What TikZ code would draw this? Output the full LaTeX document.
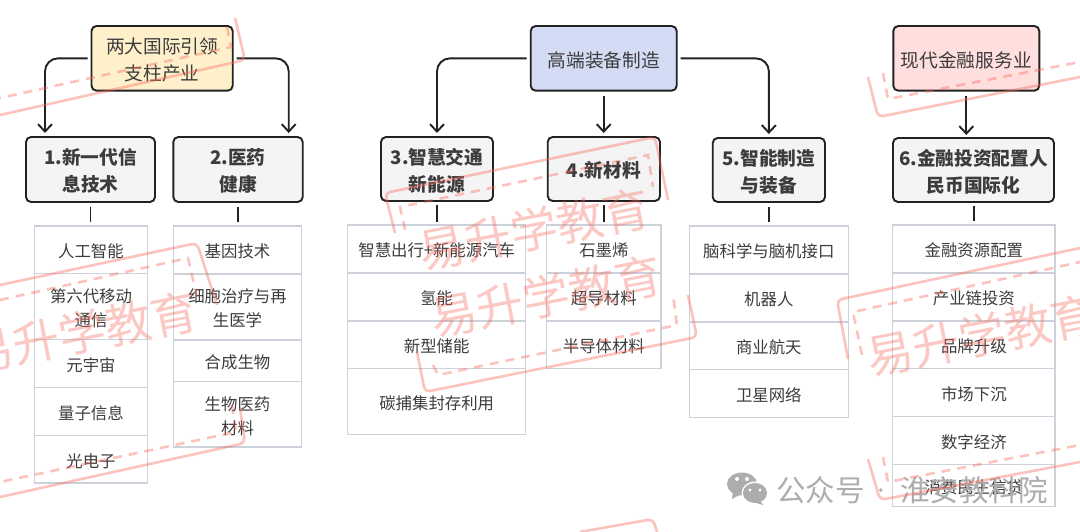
\documentclass[tikz,border=0pt]{standalone}
\usepackage{fontspec}
\setmainfont{Noto Sans CJK SC}
\usetikzlibrary{arrows.meta}
\definecolor{inkc}{HTML}{222222}
\definecolor{bodyc}{HTML}{3C3C3C}
\definecolor{rowc}{HTML}{CDD1D9}
\definecolor{stampc}{HTML}{F9695E}
\definecolor{wmc}{HTML}{ADADAD}
\definecolor{boxgrey}{HTML}{F4F4F4}
\definecolor{topyellow}{HTML}{FFF0CC}
\definecolor{topblue}{HTML}{D4DCF5}
\definecolor{toppink}{HTML}{FFDEDE}
\tikzset{
  topbox/.style={draw=inkc,line width=1.9pt,rounded corners=5pt,inner sep=0pt,outer sep=0pt},
  midbox/.style={draw=inkc,line width=1.9pt,rounded corners=5pt,fill=boxgrey,inner sep=0pt,outer sep=0pt},
  rowbox/.style={draw=rowc,line width=1.2pt,inner sep=0pt,outer sep=0pt},
  toptext/.style={inner sep=0pt,text=bodyc,align=center,font=\fontsize{18.7}{27}\selectfont},
  midtext/.style={inner sep=0pt,text=bodyc,align=center,font=\fontsize{18.7}{27}\selectfont\bfseries},
  rowtext/.style={inner sep=0pt,text=bodyc,align=center,font=\fontsize{16.4}{24}\selectfont},
  flow/.style={draw=inkc,line width=1.9pt,-{Straight Barb[length=7.5pt,width=14pt,line width=1.9pt]},rounded corners=13pt},
  stub/.style={draw=inkc,line width=1.9pt},
  stampsolid/.style={draw=stampc,opacity=.4,line width=2.6pt,line join=round,rounded corners=5pt},
  stampdash/.style={draw=stampc,opacity=.4,line width=2.6pt,dash pattern=on 9pt off 7pt},
  stamptext/.style={text=stampc,text opacity=.36,inner sep=0pt,rotate=11,font=\fontsize{47}{47}\selectfont},
  wmtext/.style={text=wmc,inner sep=0pt,font=\fontsize{29.5}{29.5}\selectfont},
}
% style of the box, style of its text, name, x1, x2, y1, y2 and the text
\newcommand{\bx}[8]{\node[#1,minimum width={(#5-#4)*1pt},minimum height={(#7-#6)*1pt}] (#3) at ({(#4+#5)/2},{(#6+#7)/2}) {};
  \node[#2] (#3t) at ([yshift=-1.7pt]#3.center) {#8};}
\begin{document}
\begin{tikzpicture}[x=1pt,y=-1pt]
\useasboundingbox (0,0) rectangle (1080,532);
\fill[white] (0,0) rectangle (1080,532);
% top boxes
\bx{topbox,fill=topyellow}{toptext}{topA}{91.5}{232.7}{26}{90.7}{两大国际引领\\支柱产业}
\bx{topbox,fill=topblue}{toptext}{topB}{530.7}{676.7}{26}{90.7}{高端装备制造}
\bx{topbox,fill=toppink}{toptext}{topC}{893.3}{1039.3}{26}{90.7}{现代金融服务业}
% middle boxes
\bx{midbox}{midtext}{mOne}{26}{155}{137}{202}{1.新一代信\\息技术}
\bx{midbox}{midtext}{mTwo}{173.3}{302.7}{137}{202}{2.医药\\健康}
\bx{midbox}{midtext}{mThree}{381}{493}{137}{201}{3.智慧交通\\新能源}
\bx{midbox}{midtext}{mFour}{547.7}{660}{137}{201}{4.新材料}
\bx{midbox}{midtext}{mFive}{712.7}{825}{138}{202}{5.智能制造\\与装备}
\bx{midbox}{midtext}{mSix}{893}{1054}{138}{202}{6.金融投资配置人\\民币国际化}
% table 1
\bx{rowbox}{rowtext}{aA}{34.3}{147.7}{226}{273.7}{人工智能}
\bx{rowbox}{rowtext}{aB}{34.3}{147.7}{273.7}{339.3}{第六代移动\\通信}
\bx{rowbox}{rowtext}{aC}{34.3}{147.7}{339.3}{387.3}{元宇宙}
\bx{rowbox}{rowtext}{aD}{34.3}{147.7}{387.3}{435.3}{量子信息}
\bx{rowbox}{rowtext}{aE}{34.3}{147.7}{435.3}{483}{光电子}
% table 2
\bx{rowbox}{rowtext}{bA}{173.7}{301.3}{226}{274}{基因技术}
\bx{rowbox}{rowtext}{bB}{173.7}{301.3}{274}{340}{细胞治疗与再\\生医学}
\bx{rowbox}{rowtext}{bC}{173.7}{301.3}{340}{381.3}{合成生物}
\bx{rowbox}{rowtext}{bD}{173.7}{301.3}{381.3}{447}{生物医药\\材料}
% table 3
\bx{rowbox}{rowtext}{cA}{347.7}{525.7}{225}{273}{智慧出行+新能源汽车}
\bx{rowbox}{rowtext}{cB}{347.7}{525.7}{273}{321}{氢能}
\bx{rowbox}{rowtext}{cC}{347.7}{525.7}{321}{368.7}{新型储能}
\bx{rowbox}{rowtext}{cD}{347.7}{525.7}{368.7}{434.3}{碳捕集封存利用}
% table 4
\bx{rowbox}{rowtext}{dA}{546.7}{661}{225}{273}{石墨烯}
\bx{rowbox}{rowtext}{dB}{546.7}{661}{273}{321}{超导材料}
\bx{rowbox}{rowtext}{dC}{546.7}{661}{321}{368.7}{半导体材料}
% table 5
\bx{rowbox}{rowtext}{eA}{689.3}{848.3}{226}{274}{脑科学与脑机接口}
\bx{rowbox}{rowtext}{eB}{689.3}{848.3}{274}{322}{机器人}
\bx{rowbox}{rowtext}{eC}{689.3}{848.3}{322}{369.7}{商业航天}
\bx{rowbox}{rowtext}{eD}{689.3}{848.3}{369.7}{417.3}{卫星网络}
% table 6
\bx{rowbox}{rowtext}{fA}{892.7}{1055}{225}{273}{金融资源配置}
\bx{rowbox}{rowtext}{fB}{892.7}{1055}{273}{321}{产业链投资}
\bx{rowbox}{rowtext}{fC}{892.7}{1055}{321}{368.7}{品牌升级}
\bx{rowbox}{rowtext}{fD}{892.7}{1055}{368.7}{416.3}{市场下沉}
\bx{rowbox}{rowtext}{fE}{892.7}{1055}{416.3}{464.3}{数字经济}
\bx{rowbox}{rowtext}{fF}{892.7}{1055}{464.3}{506.3}{消费民生信贷}
% arrows
\draw[flow] ([xshift=-4pt]topA.west) -| ([xshift=-45.5pt,yshift=4pt]mOne.north);
\draw[flow] ([xshift=4pt]topA.east) -| ([xshift=50.7pt,yshift=4pt]mTwo.north);
\draw[flow] ([xshift=-4pt]topB.west) -| ([yshift=4pt]mThree.north);
\draw[flow] ([yshift=-5pt]topB.south) -- ([yshift=4pt]topB.south |- mFour.north);
\draw[flow] ([xshift=4pt]topB.east) -| ([yshift=4pt]mFive.north);
\draw[flow] ([yshift=-5pt]topC.south) -- ([yshift=3pt]topC.south |- mSix.north);
% stubs
\draw[stub] ([yshift=-5pt]mOne.south) -- ([yshift=4pt]mOne.south |- aA.north);
\draw[stub] ([yshift=-5pt]mTwo.south) -- ([yshift=4pt]mTwo.south |- bA.north);
\draw[stub] ([yshift=-4pt]mThree.south) -- ([yshift=3pt]mThree.south |- cA.north);
\draw[stub] ([yshift=-4pt]mFour.south) -- ([yshift=3pt]mFour.south |- dA.north);
\draw[stub] ([yshift=-5pt]mFive.south) -- ([yshift=4pt]mFive.south |- eA.north);
\draw[stub] ([xshift=.5pt,yshift=-4pt]mSix.south) -- ([xshift=.5pt,yshift=4pt]mSix.south |- fA.north);
% wechat watermark
\fill[wmc] (742,484) ellipse [x radius=15,y radius=11.5];
\fill[wmc] (733,491) -- (732,499) -- (741,494) -- cycle;
\fill[white] (755,493) ellipse [x radius=13.5,y radius=11.5];
\fill[wmc] (755,493) ellipse [x radius=12,y radius=10];
\fill[wmc] (760,500) -- (763,505) -- (753,502) -- cycle;
\fill[white] (737,479) circle (2) (747,479) circle (2) (750,490) circle (1.6) (760,490) circle (1.6);
\node[wmtext,anchor=west] (wmA) at (776,490) {公众号};
\fill[wmc] (880.7,490) circle (1.8);
\node[wmtext,anchor=west] (wmB) at (900,490) {淮安教科院};
% stamps
\draw[stampsolid] (235,18) -- (245,60) -- (0,115);
\draw[stampdash] (227,27) -- (231,47) -- (0,98);
\draw[stampsolid] (0,285) -- (197,243) -- (217,305);
\draw[stampdash] (0,300) -- (188,258) -- (198,302);
\node[stamptext] (stB) at (82,332) {易升学教育};
\draw[stampsolid] (240,408) -- (245,443) -- (0,497);
\draw[stampdash] (232,405) -- (236,432) -- (0,482);
\draw[stampsolid] (395,233) -- (385,193) -- (655,137) -- (668,200);
\draw[stampdash] (405,230) -- (400,207) -- (648,155) -- (653,187);
\node[stamptext] (stC) at (534,229) {易升学教育};
\node[stamptext] (stD) at (546,296) {易升学教育};
\draw[stampsolid] (417,352) -- (425,392) -- (697,337) -- (688,295);
\draw[stampdash] (433,365) -- (438,375) -- (677,325) -- (673,295);
\draw[stampsolid] (848,359) -- (837,300) -- (1080,248);
\draw[stampdash] (862,355) -- (853,312) -- (1080,262);
\node[stamptext] (stE) at (982,335) {易升学教育};
\draw[stampsolid] (868,77) -- (878,117) -- (1080,77);
\draw[stampdash] (883,73) -- (888,99) -- (1080,62);
\draw[stampsolid] (868,459) -- (880,500) -- (1080,462);
\draw[stampdash] (883,457) -- (888,482) -- (1080,445);
\draw[stampsolid] (580,532) -- (653,519) -- (657,532);
\end{tikzpicture}
\end{document}
